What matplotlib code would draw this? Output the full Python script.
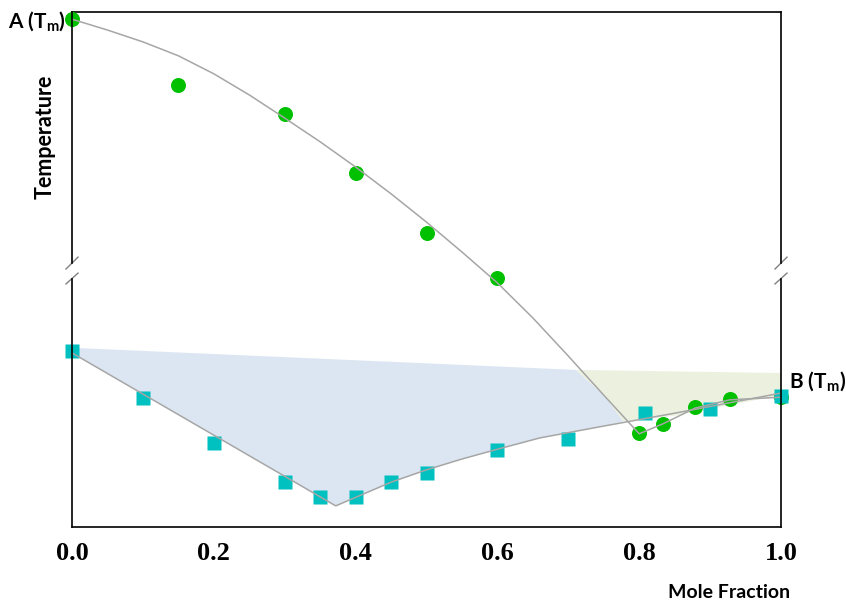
import matplotlib
matplotlib.use("Agg")
import matplotlib.pyplot as plt

# ---- data (temperature in arbitrary units, 0 = bottom of plot, 100 = top) ----
liq_a_x = [0.0, 0.15, 0.3, 0.4, 0.5, 0.6]
liq_a_t = [98.6, 85.8, 80.2, 68.7, 57.1, 48.3]

liq_b_x = [0.8, 0.833, 0.879, 0.928, 1.0]
liq_b_t = [18.3, 20.0, 23.3, 24.9, 25.2]

sol_x = [0.0, 0.1, 0.2, 0.3, 0.35, 0.4, 0.45, 0.5, 0.6, 0.7, 0.808, 0.9, 1.0]
sol_t = [34.2, 25.0, 16.3, 8.7, 5.8, 5.8, 8.7, 10.5, 15.0, 17.1, 22.1, 22.9, 25.4]

curve1_x = [0.0, 0.05, 0.1, 0.15, 0.2, 0.25, 0.3, 0.35, 0.4, 0.45, 0.5, 0.55,
            0.6, 0.65, 0.7, 0.75, 0.8, 0.833, 0.879, 0.928, 1.0]
curve1_t = [98.6, 96.5, 94.2, 91.5, 88.0, 83.9, 79.4, 74.8, 69.9, 64.7, 59.2, 53.4,
            47.4, 40.6, 33.2, 25.6, 18.1, 20.0, 23.1, 24.7, 25.2]

curve2_x = [0.0, 0.372, 0.45, 0.5, 0.55, 0.6, 0.66, 0.75, 0.85, 1.0]
curve2_t = [33.8, 4.1, 8.7, 11.1, 13.2, 15.1, 17.3, 19.6, 22.1, 26.0]

blue_x = [0.0, 0.711, 0.75, 0.778, 0.75, 0.66, 0.6, 0.55, 0.5, 0.45, 0.372, 0.0]
blue_t = [34.8, 30.5, 25.6, 20.5, 19.6, 17.3, 15.1, 13.2, 11.1, 8.7, 4.1, 33.8]

green_x = [0.711, 1.0, 1.0, 0.85, 0.778, 0.75]
green_t = [30.5, 29.9, 25.6, 21.6, 20.5, 25.6]

xticks = [0.0, 0.2, 0.4, 0.6, 0.8, 1.0]
xticklabels = ["0.0", "0.2", "0.4", "0.6", "0.8", "1.0"]

# ---- figure ----
fig = plt.figure(figsize=(8.46, 6.01), dpi=100)
ax = fig.add_axes([72/846, 74/601, 709/846, 515/601])

ax.fill(blue_x, blue_t, color="#dce6f2", lw=0, zorder=1)
ax.fill(green_x, green_t, color="#ebf1de", lw=0, zorder=1)

ax.plot(liq_a_x, liq_a_t, "o", color="#00c000", ms=10.8, mec="none", zorder=3, clip_on=False)
ax.plot(liq_b_x, liq_b_t, "o", color="#00c000", ms=10.8, mec="none", zorder=3, clip_on=False)
ax.plot(sol_x, sol_t, "s", color="#00c0c0", ms=9.5, mec="none", zorder=3, clip_on=False)

ax.plot(curve1_x, curve1_t, "-", color="#a6a6a6", lw=1.1, zorder=4)
ax.plot(curve2_x, curve2_t, "-", color="#a6a6a6", lw=1.1, zorder=4)

ax.set_xlim(0, 1.0)
ax.set_ylim(0, 100)

ax.set_xticks(xticks)
ax.set_xticklabels(xticklabels, fontfamily="Liberation Serif", fontweight="bold", fontsize=19)
ax.tick_params(axis="x", length=0, pad=11)
ax.set_yticks([])

for s in ["top", "bottom"]:
    ax.spines[s].set_linewidth(1.2)
    ax.spines[s].set_color("black")
ax.spines["left"].set_visible(False)
ax.spines["right"].set_visible(False)

# broken vertical spines
lo, hi = 0.482, 0.513
for xs in [0.0, 1.0]:
    ax.plot([xs, xs], [0, lo], color="black", lw=1.2, transform=ax.transAxes, clip_on=False, zorder=5)
    ax.plot([xs, xs], [hi, 1], color="black", lw=1.2, transform=ax.transAxes, clip_on=False, zorder=5)
    dx = 6/709
    ax.plot([xs - dx, xs + dx], [0.501, 0.524], color="#808080", lw=1.0, transform=ax.transAxes, clip_on=False)
    ax.plot([xs - dx, xs + dx], [0.472, 0.493], color="#808080", lw=1.0, transform=ax.transAxes, clip_on=False)

plt.rcParams["mathtext.default"] = "regular"
fig.text(8/846, 1 - 21/601, r"A (T$_{m}$)", fontfamily="Lato", fontweight="bold", fontsize=15,
         ha="left", va="center")
fig.text(789/846, 1 - 381/601, r"B (T$_{m}$)", fontfamily="Lato", fontweight="bold", fontsize=15,
         ha="left", va="center")
fig.text(45/846, 1 - 137/601, "Temperature", fontfamily="Lato", fontweight="bold", fontsize=15.5,
         rotation=90, ha="center", va="center")
fig.text(790/846, 1 - 592/601, "Mole Fraction", fontfamily="Lato", fontweight="bold", fontsize=14,
         ha="right", va="center")

fig.savefig("out.png", dpi=100)
